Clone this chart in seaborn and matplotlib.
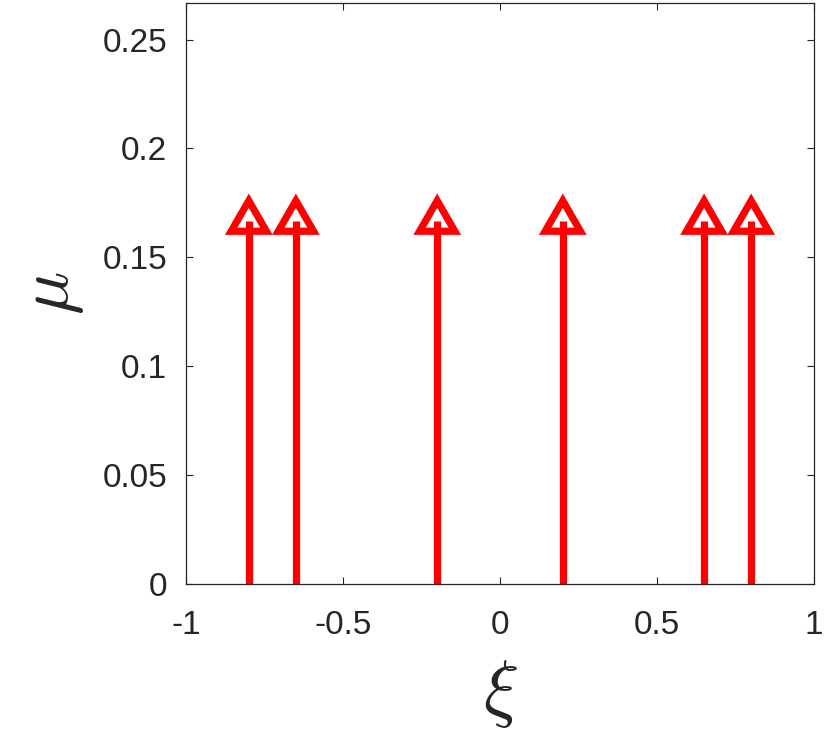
import numpy as np
import matplotlib
matplotlib.use('Agg')
import matplotlib.pyplot as plt
from matplotlib.path import Path
import seaborn as sns

# nodos y pesos
xi = [-0.8, -0.65, -0.2, 0.2, 0.65, 0.8]
mu = [1/6, 1/6, 1/6, 1/6, 1/6, 1/6]
xticks = [-1, -0.5, 0, 0.5, 1]
xlabels = ['-1', '-0.5', '0', '0.5', '1']
yticks = [0, 0.05, 0.1, 0.15, 0.2, 0.25]
ylabels = ['0', '0.05', '0.1', '0.15', '0.2', '0.25']

sns.set_theme(style='ticks')
plt.rcParams['font.family'] = ['Liberation Sans', 'DejaVu Sans']
plt.rcParams['mathtext.fontset'] = 'cm'

gris = '#262626'

# triangulo centrado en su centroide (como MATLAB)
h = np.sqrt(3) / 2
tri = Path([(0, 2*h/3), (-0.5, -h/3), (0.5, -h/3), (0, 2*h/3)],
           [Path.MOVETO, Path.LINETO, Path.LINETO, Path.CLOSEPOLY])

fig = plt.figure(figsize=(8.3, 7.38), dpi=100)
ax = fig.add_axes([0.2241, 0.2087, 0.7566, 0.7869])

ax.vlines(xi, 0, mu, color='red', linewidth=5.2, capstyle='butt')
sns.scatterplot(x=xi, y=mu, ax=ax, marker=tri, s=860, facecolor='none',
                edgecolor='red', linewidth=5.2, joinstyle='miter', zorder=3)

ax.set_xlim(-1, 1)
ax.set_ylim(0, 0.2667)
ax.set_xticks(xticks)
ax.set_xticklabels(xlabels)
ax.set_yticks(yticks)
ax.set_yticklabels(ylabels)

for s in ax.spines.values():
    s.set_visible(True)
    s.set_color(gris)
    s.set_linewidth(0.9)

ax.tick_params(axis='both', direction='in', length=5, width=0.8, color=gris,
               labelcolor=gris, labelsize=24, top=True, right=True)
ax.tick_params(axis='x', pad=19)
ax.tick_params(axis='y', pad=13.5)

ax.set_xlabel(r'$\xi$', fontsize=53, color=gris, labelpad=12)
ax.set_ylabel(r'$\mu$', fontsize=52, color=gris, labelpad=12)

plt.savefig('out.png', dpi=100)
plt.close()
